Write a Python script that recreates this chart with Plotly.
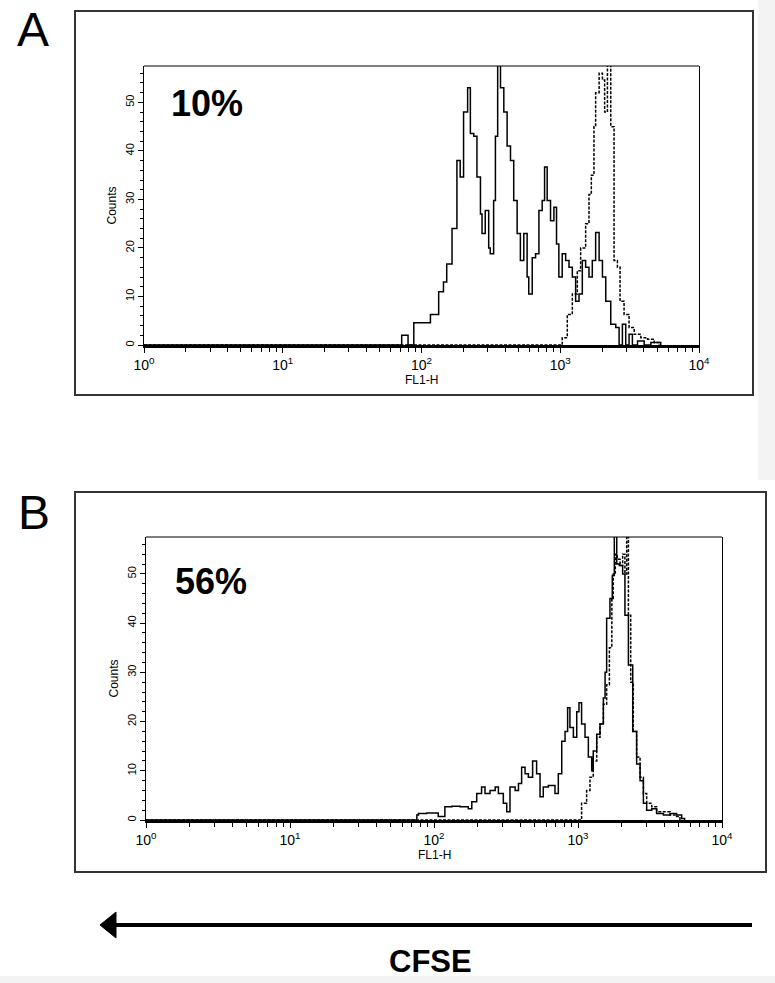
import plotly.graph_objects as go

# ---------------- data (FL1-H intensity, counts) ----------------
a_stim_fl = [1, 72, 80, 88, 95, 103, 116, 133, 144, 152, 166, 180, 190, 201, 215, 225, 238, 251, 266, 273,
             288, 305, 313, 331, 341, 354, 371, 392, 414, 438, 462, 489, 516, 546, 577, 593, 628, 664,
             702, 741, 771, 805, 851, 900, 940, 977, 1033, 1094, 1156, 1222, 1291, 1365, 1442, 1524,
             1611, 1702, 1799, 1906, 2014, 2128, 2312, 2512, 2655, 2805, 2965, 3133, 3311, 3606, 4027,
             4498, 5023, 5300]
a_stim_ct = [0, 2, 0, 4.6, 4.6, 4.6, 6.3, 11, 13, 16.7, 24, 38, 34.6, 48, 53, 43.6, 43, 34.6, 27, 23,
             27.7, 20, 18.8, 29.8, 43, 60, 53, 48, 41, 38, 29.8, 23, 17.4, 23, 14, 10.5, 18, 18.8,
             27.7, 29.8, 36.7, 29.8, 25.6, 28.4, 20.8, 14, 18.8, 17.4, 16, 14, 9, 10.5, 17.4, 16,
             14, 17.4, 23.2, 17.4, 14, 9, 4.3, 3.6, 0, 4.3, 0, 2.2, 0, 0.8, 0,
             0.5, 0.5, 0]

a_ctrl_fl = [1, 1004, 1033, 1124, 1222, 1327, 1403, 1524, 1611, 1675, 1750, 1799, 1906, 2014, 2089,
             2188, 2312, 2443, 2582, 2698, 2884, 3133, 3411, 3811, 4256, 4753, 5164]
a_ctrl_ct = [0, 0, 1.5, 6.3, 10.5, 15.3, 20, 25, 31, 35, 45, 52, 56, 54.6, 48,
             60, 45, 17.4, 16, 9, 6.3, 3.6, 2.2, 1.5, 1.2, 0.5, 0]

b_stim_fl = [1, 76, 78, 89, 107, 119, 133, 152, 173, 183, 198, 214, 226, 245, 266, 280, 303, 320, 337,
             366, 386, 406, 429, 452, 484, 516, 545, 574, 622, 675, 692, 730, 771, 813, 847, 879, 929,
             980, 1016, 1059, 1119, 1180, 1245, 1276, 1349, 1422, 1500, 1542, 1581, 1667, 1730, 1787,
             1858, 1936, 2042, 2118, 2239, 2399, 2554, 2698, 2845, 2999, 3251, 3516, 3917, 4355, 4842,
             5248, 5500]
b_stim_ct = [0, 1, 1.3, 1.4, 0.7, 2.7, 2.8, 2.7, 2.3, 3.7, 5.4, 6.7, 5.4, 6, 6.7, 5.4, 3.4, 1.7, 6.7,
             6, 7.4, 10.7, 9.4, 8.7, 12, 9.4, 4.7, 6.7, 7, 7, 5.4, 9.4, 16, 18, 22.8, 18.8, 16.8,
             22, 23.8, 19.5, 16.8, 12.8, 10, 14, 17.4, 19.5, 24.8, 30, 41, 45, 49.7, 60,
             52, 51.7, 50, 41.6, 31.5, 18, 11.4, 8, 3.4, 2, 2.3, 1.3, 1, 1.3, 1,
             0.3, 0]

b_ctrl_fl = [1, 1016, 1059, 1148, 1211, 1276, 1349, 1422, 1500, 1581, 1652, 1718, 1758, 1816, 1875,
             1959, 2042, 2118, 2178, 2239, 2323, 2421, 2554, 2698, 2845, 2999, 3251, 3516, 3917,
             4355, 4842, 5105]
b_ctrl_ct = [0, 0, 3.4, 6, 8.7, 12, 16.8, 19.5, 23.5, 27.5, 35, 45, 50, 54, 53,
             51.7, 54, 50, 60, 41.6, 28, 18, 12.8, 8.7, 5.4, 3.4, 2.7, 1.7, 1.7,
             1, 0.7, 0]

x_tickvals = [1, 10, 100, 1000, 10000]
x_ticktext = ["10<sup>0</sup>", "10<sup>1</sup>", "10<sup>2</sup>", "10<sup>3</sup>", "10<sup>4</sup>"]
panel_letters = ["A", "B"]
panel_percents = ["10%", "56%"]

# ---------------- layout helpers ----------------
W, H = 775, 983
def px(x):
    return x / W
def py(y):
    return 1 - y / H

FONT = "Liberation Sans, Arial, sans-serif"

fig = go.Figure()
for fl, ct, ax, dash in [(a_stim_fl, a_stim_ct, "1", "solid"), (a_ctrl_fl, a_ctrl_ct, "1", "3px,1.5px"),
                         (b_stim_fl, b_stim_ct, "2", "solid"), (b_ctrl_fl, b_ctrl_ct, "2", "3px,1.5px")]:
    fig.add_trace(go.Scatter(x=fl, y=ct, mode="lines", line=dict(color="black", width=1.5, dash=dash, shape="hv"),
                             xaxis="x" if ax == "1" else "x2", yaxis="y" if ax == "1" else "y2",
                             showlegend=False, hoverinfo="skip"))

def xaxis_cfg(dom, anchor):
    return dict(domain=dom, anchor=anchor, type="log", range=[0, 4], tickmode="array",
                tickvals=x_tickvals, ticktext=x_ticktext, ticks="outside", ticklen=5, tickwidth=1.2,
                tickcolor="black", showline=True, linecolor="black", linewidth=2.5, mirror=False,
                showgrid=False, zeroline=False, automargin=False,
                tickfont=dict(family=FONT, size=14, color="black"),
                minor=dict(ticks="outside", ticklen=4, tickwidth=1, tickcolor="black", dtick="D1", showgrid=False))

def yaxis_cfg(dom, anchor):
    return dict(domain=dom, anchor=anchor, range=[0, 57.5], dtick=10, tick0=0, ticks="outside",
                ticklen=5, tickwidth=1.2, tickcolor="black", tickangle=-90, showline=True,
                linecolor="black", linewidth=1.2, mirror=True, showgrid=False, zeroline=False,
                automargin=False, tickfont=dict(family=FONT, size=11, color="black"),
                minor=dict(ticks="outside", ticklen=3, tickwidth=1, tickcolor="black", dtick=2, showgrid=False),
                title=dict(text="Counts", font=dict(family=FONT, size=12, color="black"), standoff=4))

fig.update_layout(
    width=W, height=H, margin=dict(l=0, r=0, t=0, b=0, autoexpand=False),
    paper_bgcolor="white", plot_bgcolor="white",
    xaxis=xaxis_cfg([px(144), px(699)], "y"),
    yaxis=yaxis_cfg([py(345), py(66)], "x"),
    xaxis2=xaxis_cfg([px(146), px(722)], "y2"),
    yaxis2=yaxis_cfg([py(820), py(537)], "x2"),
)

shapes = []
# light grey page edges of the scanned figure
shapes.append(dict(type="rect", xref="paper", yref="paper", x0=px(758), x1=1, y0=py(480), y1=1,
                   fillcolor="#f3f3f3", line=dict(width=0), layer="below"))
shapes.append(dict(type="rect", xref="paper", yref="paper", x0=0, x1=1, y0=0, y1=py(976),
                   fillcolor="#f3f3f3", line=dict(width=0), layer="below"))
# outer panel boxes
shapes.append(dict(type="rect", xref="paper", yref="paper", x0=px(75), x1=px(753), y0=py(395), y1=py(11),
                   line=dict(color="#333", width=2)))
shapes.append(dict(type="rect", xref="paper", yref="paper", x0=px(75), x1=px(766), y0=py(872), y1=py(492),
                   line=dict(color="#333", width=2)))
# top frame lines of inner plots
for xr, yr in [("x domain", "y domain"), ("x2 domain", "y2 domain")]:
    shapes.append(dict(type="line", xref=xr, yref=yr, x0=0, x1=1, y0=1, y1=1, line=dict(color="black", width=1.2)))
# CFSE arrow
shapes.append(dict(type="line", xref="paper", yref="paper", x0=px(110), x1=px(752), y0=py(925), y1=py(925),
                   line=dict(color="black", width=4)))
shapes.append(dict(type="path", xref="paper", yref="paper",
                   path=f"M {px(100)} {py(925)} L {px(116)} {py(912)} L {px(116)} {py(938)} Z",
                   fillcolor="black", line=dict(color="black", width=1)))
fig.update_layout(shapes=shapes)

ann = []
for letter, (xx, yy) in zip(panel_letters, [(33, 30), (34, 512)]):
    ann.append(dict(text=letter, x=px(xx), y=py(yy), xref="paper", yref="paper", showarrow=False,
                    font=dict(family=FONT, size=48, color="black"), xanchor="center", yanchor="middle"))
for pct, (xx, yy) in zip(panel_percents, [(207, 103), (211, 581)]):
    ann.append(dict(text=f"<b>{pct}</b>", x=px(xx), y=py(yy), xref="paper", yref="paper", showarrow=False,
                    font=dict(family=FONT, size=36, color="black"), xanchor="center", yanchor="middle"))
for xr, yy in [("x", 380), ("x2", 855)]:
    ann.append(dict(text="FL1-H", x=2, y=py(yy), xref=xr, yref="paper", showarrow=False,
                    font=dict(family=FONT, size=12, color="black"), xanchor="center", yanchor="middle"))
ann.append(dict(text="<b>CFSE</b>", x=px(430), y=py(961), xref="paper", yref="paper", showarrow=False,
                font=dict(family=FONT, size=31, color="black"), xanchor="center", yanchor="middle"))
fig.update_layout(annotations=ann)

fig.write_html("out.html", post_script="document.body.style.margin='0';",
               config={"displayModeBar": False})
